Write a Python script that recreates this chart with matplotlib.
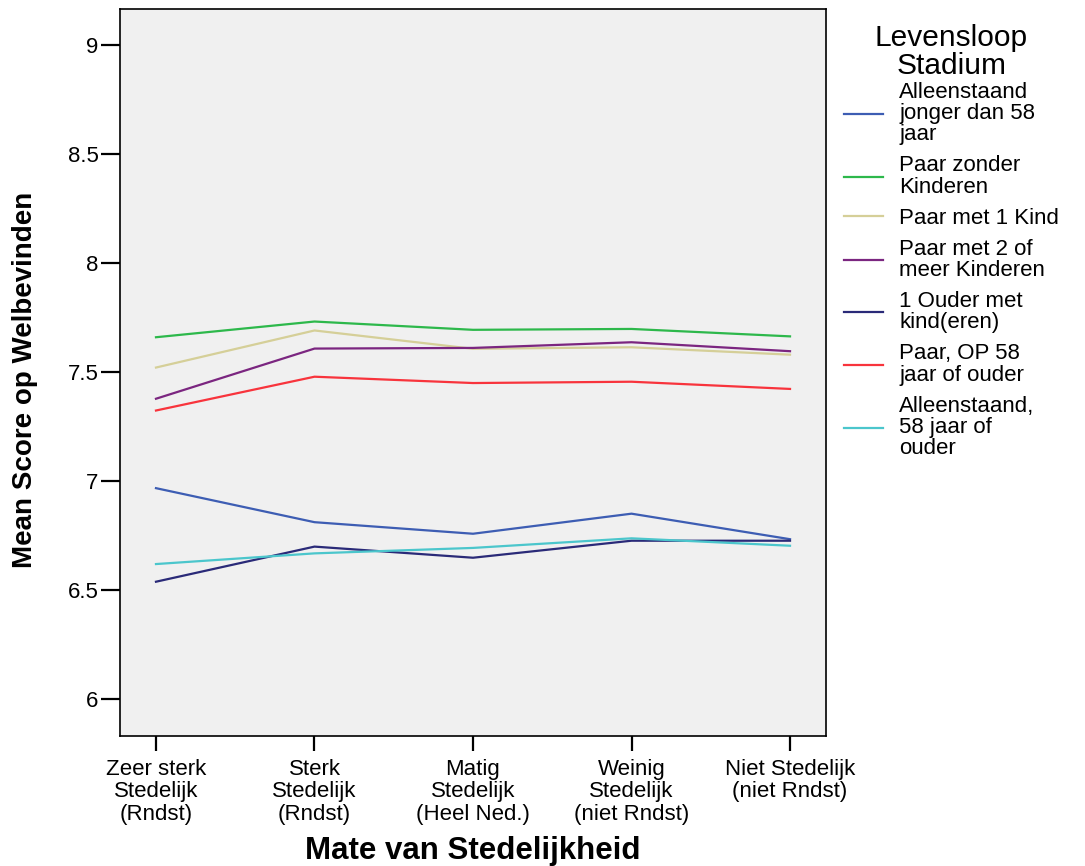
import matplotlib
matplotlib.use("Agg")
import matplotlib.pyplot as plt

categories = ["Zeer sterk\nStedelijk\n(Rndst)", "Sterk\nStedelijk\n(Rndst)",
              "Matig\nStedelijk\n(Heel Ned.)", "Weinig\nStedelijk\n(niet Rndst)",
              "Niet Stedelijk\n(niet Rndst)"]

series_labels = ["Alleenstaand\njonger dan 58\njaar", "Paar zonder\nKinderen",
                 "Paar met 1 Kind", "Paar met 2 of\nmeer Kinderen",
                 "1 Ouder met\nkind(eren)", "Paar, OP 58\njaar of ouder",
                 "Alleenstaand,\n58 jaar of\nouder"]

alleen_jong = [6.968, 6.812, 6.759, 6.851, 6.734]
paar_zonder = [7.660, 7.732, 7.694, 7.698, 7.664]
paar_1kind = [7.521, 7.691, 7.607, 7.614, 7.580]
paar_2kind = [7.378, 7.608, 7.611, 7.637, 7.596]
ouder_kind = [6.539, 6.700, 6.649, 6.727, 6.727]
paar_58 = [7.324, 7.479, 7.450, 7.456, 7.423]
alleen_58 = [6.620, 6.669, 6.694, 6.738, 6.704]

series_values = [alleen_jong, paar_zonder, paar_1kind, paar_2kind,
                 ouder_kind, paar_58, alleen_58]
colors = ["#3D5DB3", "#2DB84B", "#D5CF98", "#7B2680", "#2A2A78", "#F8343C", "#4BC6CC"]

yticks = [6, 6.5, 7, 7.5, 8, 8.5, 9]
ytick_labels = ["6", "6.5", "7", "7.5", "8", "8.5", "9"]

plt.rcParams['font.family'] = ['Liberation Sans', 'DejaVu Sans']

fig = plt.figure(figsize=(10.85, 8.66), dpi=100)
ax = fig.add_axes([120/1085, 1-735.7/866, (826-120)/1085, (735.7-9)/866])
ax.set_facecolor("#F0F0F0")

x = list(range(len(categories)))
for vals, lab, c in zip(series_values, series_labels, colors):
    ax.plot(x, vals, color=c, lw=1.6, label=lab)

ax.set_xlim(-0.227, 4.227)
ax.set_ylim(5.833, 9.165)
ax.set_xticks(x)
ax.set_xticklabels(categories, fontsize=16, linespacing=1.1)
ax.set_yticks(yticks)
ax.set_yticklabels(ytick_labels, fontsize=16)
ax.tick_params(axis='y', length=13.5, width=1.6, pad=2)
ax.tick_params(axis='x', length=10.5, width=1.6, pad=6)
for s in ax.spines.values():
    s.set_linewidth(1.2)

ax.set_xlabel("Mate van Stedelijkheid", fontsize=22.5, fontweight='bold', labelpad=8)
ax.set_ylabel("Mean Score op Welbevinden", fontsize=20, fontweight='bold')
ax.yaxis.set_label_coords(-82/706, 0.489)

leg = ax.legend(loc='upper left', bbox_to_anchor=(1.0, 1.004), frameon=False,
                fontsize=16, title="Levensloop\nStadium", title_fontsize=21.5,
                handlelength=1.75, handletextpad=0.75, labelspacing=0.45,
                borderaxespad=0.4)
leg._legend_box.align = "center"
leg._legend_box.sep = 1
for t in leg.get_texts():
    t.set_linespacing(1.02)
leg.get_title().set_linespacing(1.02)
leg.get_title().set_multialignment('center')

fig.savefig("out.png", dpi=100, facecolor="white")
